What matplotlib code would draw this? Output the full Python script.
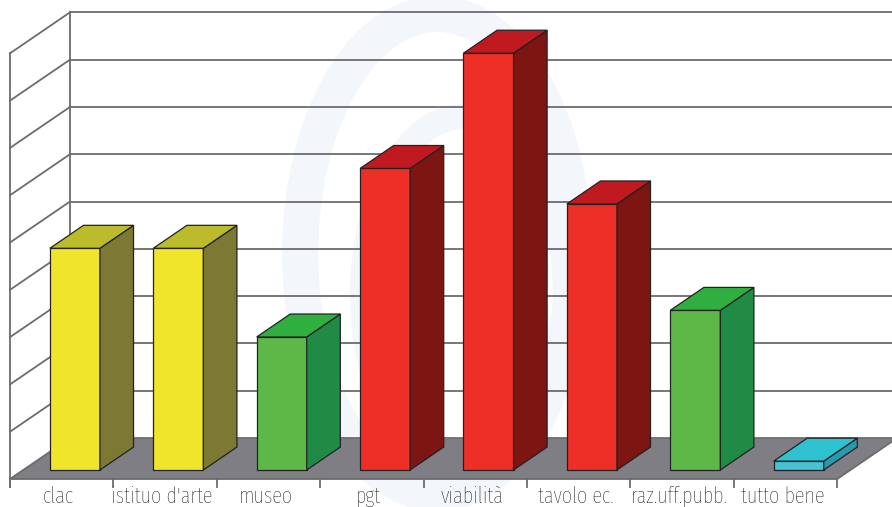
import matplotlib.pyplot as plt
from matplotlib.patches import Polygon, Ellipse
import numpy as np

# valori del grafico
categorie = ['clac', "istituo d'arte", 'museo', 'pgt', 'viabilità',
             'tavolo ec.', 'raz.uff.pubb.', 'tutto bene']
valori = [25, 25, 15, 34, 47, 30, 18, 1]
colori = ['giallo', 'giallo', 'verde', 'rosso', 'rosso', 'rosso', 'verde', 'ciano']

# colori delle facce: frontale, laterale, superiore
PALETTE = {
    'giallo': ('#f1e52b', '#7b7934', '#bcbb2c'),
    'verde': ('#5db848', '#1f8b45', '#30af41'),
    'rosso': ('#ee2f27', '#7d1513', '#c0191f'),
    'ciano': ('#46c2d4', '#2a98ae', '#2fc2d1'),
}

Y_MAX = 48
N_GRID = 9

# proiezione obliqua: profondità d in [0, 1]
DX = 0.58
DY = 4.62
D0, D1 = 0.22, 0.78
HALF = 0.242

LINEA = '#6c6c6c'


def proj(x, v, d):
    return (x + d * DX, v + d * DY)


def faccia(ax, punti, colore, z=3, ec='#222222', lw=0.9):
    ax.add_patch(Polygon([proj(*p) for p in punti], closed=True,
                         facecolor=colore, edgecolor=ec, linewidth=lw,
                         joinstyle='miter', zorder=z))


fig = plt.figure(figsize=(8.92, 5.07), dpi=100)
ax = fig.add_axes([0, 0, 1, 1])
ax.set_xlim(-0.597, 8.030)
ax.set_ylim(-3.157, 54.01)
ax.axis('off')

# logo in filigrana sullo sfondo
for cx, cy, r, lw in [(0.49, 0.50, 0.27, 26), (0.52, 0.42, 0.20, 18)]:
    ax.add_patch(Ellipse((cx, cy), 2 * r * 507 / 892, 2 * r * 1.75,
                         transform=ax.transAxes, fill=False,
                         edgecolor='#f3f6fa', linewidth=lw, zorder=0))

n = len(categorie)
x_sx, x_dx = -0.5, n - 0.5
griglia = np.linspace(0, Y_MAX, N_GRID + 1)

# parete di fondo e parete sinistra
for g in griglia[1:]:
    a = proj(x_sx, g, 1)
    ax.plot([a[0], 9], [a[1], a[1]], color=LINEA, lw=1.3, zorder=1)
    b = proj(x_sx, g, 0)
    ax.plot([b[0], a[0]], [b[1], a[1]], color=LINEA, lw=1.3, zorder=1)
for d in (0, 1):
    p, q = proj(x_sx, 0, d), proj(x_sx, Y_MAX, d)
    ax.plot([p[0], q[0]], [p[1] - (0.9 if d == 0 else 0), q[1]],
            color=LINEA, lw=1.3, zorder=1)

# pavimento
faccia(ax, [(x_sx, 0, 0), (x_dx, 0, 0), (x_dx, 0, 1), (x_sx, 0, 1)],
       '#7e7e84', z=2, ec=LINEA, lw=1.3)

# tacche sotto il pavimento
for k in range(n + 1):
    ax.plot([x_sx + k, x_sx + k], [0, -0.9], color=LINEA, lw=1.3, zorder=2)

# barre
for i, (v, c) in enumerate(zip(valori, colori)):
    fr, lat, sup = PALETTE[c]
    x0, x1 = i - HALF, i + HALF
    faccia(ax, [(x0, 0, D0), (x1, 0, D0), (x1, v, D0), (x0, v, D0)], fr)
    faccia(ax, [(x1, 0, D0), (x1, 0, D1), (x1, v, D1), (x1, v, D0)], lat)
    faccia(ax, [(x0, v, D0), (x1, v, D0), (x1, v, D1), (x0, v, D1)], sup)

# etichette delle categorie
for i, nome in enumerate(categorie):
    ax.text(i - 0.03, -2.72, nome, ha='center', va='baseline', fontsize=16,
            family=['Fira Sans Extra Condensed', 'DejaVu Sans'],
            fontweight='light', color='#000000')

fig.savefig('out.png', dpi=100)
